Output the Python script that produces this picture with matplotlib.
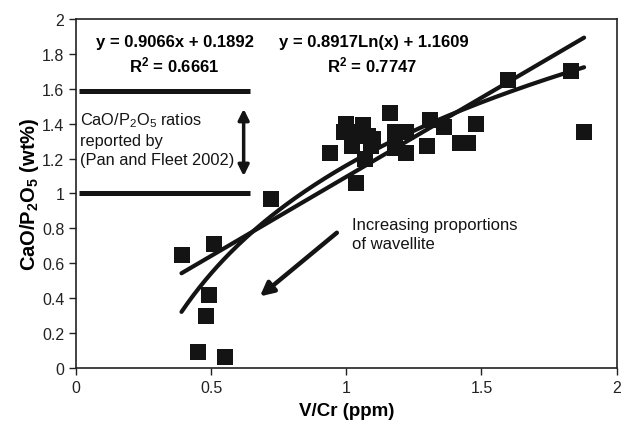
import numpy as np
import matplotlib
matplotlib.use("Agg")
import matplotlib.pyplot as plt

plt.rcParams['font.family'] = ['Liberation Sans', 'DejaVu Sans']
plt.rcParams['mathtext.default'] = 'regular'

# data (V/Cr ppm vs CaO/P2O5 wt%)
vcr = [0.39, 0.51, 0.49, 0.48, 0.45, 0.55, 0.72, 0.94, 1.035, 1.00, 0.99, 1.035,
       1.02, 1.08, 1.06, 1.09, 1.07, 1.10, 1.16, 1.18, 1.18, 1.22, 1.22, 1.31,
       1.30, 1.36, 1.42, 1.45, 1.48, 1.60, 1.83, 1.88]
cao_p2o5 = [0.65, 0.71, 0.42, 0.30, 0.09, 0.06, 0.97, 1.23, 1.06, 1.40, 1.35, 1.35,
            1.27, 1.33, 1.39, 1.27, 1.20, 1.31, 1.46, 1.35, 1.26, 1.35, 1.23, 1.42,
            1.27, 1.38, 1.29, 1.29, 1.40, 1.65, 1.70, 1.35]

lin_slope, lin_int = 0.9066, 0.1892
log_coef, log_int = 0.8917, 1.1609
pan_fleet_range = [1.0, 1.586]

xticks = [0, 0.5, 1, 1.5, 2]
xticklabels = ['0', '0.5', '1', '1.5', '2']
yticks = [0, 0.2, 0.4, 0.6, 0.8, 1, 1.2, 1.4, 1.6, 1.8, 2]
yticklabels = ['0', '0.2', '0.4', '0.6', '0.8', '1', '1.2', '1.4', '1.6', '1.8', '2']

fig = plt.figure(figsize=(6.24, 4.27), dpi=100)
ax = fig.add_axes([0.122, 0.136, 0.866, 0.817])

ax.plot(vcr, cao_p2o5, 's', color='#141414', markersize=11.5, markeredgewidth=0)

xx = np.linspace(min(vcr), max(vcr), 200)
ax.plot(xx, lin_slope * xx + lin_int, color='#141414', lw=3, solid_capstyle='round')
ax.plot(xx, log_coef * np.log(xx) + log_int, color='#141414', lw=3, solid_capstyle='round')

for yv in pan_fleet_range:
    ax.plot([0.011, 0.642], [yv, yv], color='#141414', lw=3.6, solid_capstyle='butt')

ax.annotate('', xy=(0.62, 1.10), xytext=(0.62, 1.485),
            arrowprops=dict(arrowstyle='<|-|>', color='#141414', lw=2.5,
                            mutation_scale=16, shrinkA=0, shrinkB=0))
ax.annotate('', xy=(0.68, 0.41), xytext=(0.965, 0.775),
            arrowprops=dict(arrowstyle='-|>', color='#141414', lw=3.2,
                            mutation_scale=20, shrinkA=0, shrinkB=0))

ax.text(0.015, 1.475, 'CaO/P$_2$O$_5$ ratios\nreported by\n(Pan and Fleet 2002)',
        fontsize=11.8, va='top', ha='left', linespacing=1.32, color='#141414')
ax.text(1.02, 0.768, 'Increasing proportions\nof wavellite', fontsize=12,
        va='center', ha='left', linespacing=1.35, color='#141414')

eq_fs = 12
ax.text(0.364, 1.874, 'y = %.4fx + %.4f' % (lin_slope, lin_int), fontsize=eq_fs,
        fontweight='bold', ha='center', va='center')
ax.text(0.364, 1.742, 'R$^2$ = 0.6661', fontsize=eq_fs, fontweight='bold',
        ha='center', va='center')
ax.text(1.10, 1.874, 'y = %.4fLn(x) + %.4f' % (log_coef, log_int), fontsize=eq_fs,
        fontweight='bold', ha='center', va='center')
ax.text(1.095, 1.742, 'R$^2$ = 0.7747', fontsize=eq_fs, fontweight='bold',
        ha='center', va='center')

ax.set_xlim(0, 2)
ax.set_ylim(0, 2)
ax.set_xticks(xticks)
ax.set_xticklabels(xticklabels)
ax.set_yticks(yticks)
ax.set_yticklabels(yticklabels)
ax.tick_params(direction='out', length=5, width=1, labelsize=11.5, colors='#222222')
for s in ax.spines.values():
    s.set_linewidth(1.2)
    s.set_color('#222222')

ax.set_xlabel('V/Cr (ppm)', fontsize=13.5, fontweight='bold', labelpad=5)
ax.set_ylabel('CaO/P$_2$O$_5$ (wt%)', fontsize=14.5, fontweight='bold', labelpad=1)

fig.savefig('out.png', dpi=100)
